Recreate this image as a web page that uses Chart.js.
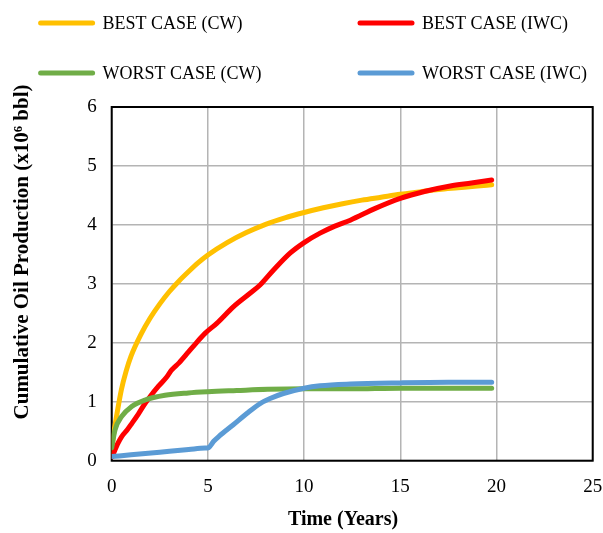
<!DOCTYPE html>
<html>
<head>
<meta charset="utf-8">
<script src="https://cdn.jsdelivr.net/npm/chart.js@4/dist/chart.umd.min.js"></script>
<style>
html,body{margin:0;padding:0;background:#fff;}
canvas{display:block;}
</style>
</head>
<body>
<canvas id="c" width="603" height="533"></canvas>
<script>
// ---- data ----
const seriesLabels = ["BEST CASE (CW)", "BEST CASE (IWC)", "WORST CASE (CW)", "WORST CASE (IWC)"];

const bestCwX = [0, 0.1, 0.25, 0.5, 0.75, 1.0, 1.5, 2.0, 2.5, 3.0, 3.5, 4.0, 4.5, 5.0, 6.0, 7.0, 8.0, 9.0, 10, 11, 12, 13, 14, 15, 16, 17, 18, 19, 19.75];
const bestCwY = [0.15, 0.45, 0.75, 1.2, 1.52, 1.77, 2.13, 2.42, 2.66, 2.87, 3.05, 3.21, 3.36, 3.49, 3.70, 3.87, 4.01, 4.12, 4.21, 4.29, 4.36, 4.42, 4.47, 4.52, 4.56, 4.60, 4.63, 4.66, 4.68];

const bestIwcX = [0.03, 0.3, 0.52, 0.8, 1.04, 1.4, 1.73, 2.0, 2.42, 2.86, 3.12, 3.5, 3.98, 4.4, 4.85, 5.46, 6.32, 7.19, 7.71, 8.4, 9.27, 10, 10.83, 11.6, 12.4, 13.7, 15, 16.3, 17.6, 18.7, 19.75];
const bestIwcY = [0.07, 0.28, 0.41, 0.52, 0.63, 0.80, 0.97, 1.09, 1.26, 1.42, 1.54, 1.66, 1.84, 2.00, 2.16, 2.33, 2.61, 2.84, 2.98, 3.23, 3.52, 3.70, 3.86, 3.98, 4.08, 4.28, 4.45, 4.57, 4.66, 4.71, 4.76];

const worstCwX = [0, 0.17, 0.52, 1.04, 1.73, 2.77, 3.98, 5.0, 6.5, 8.1, 10, 12.4, 15, 17.5, 19.75];
const worstCwY = [0.22, 0.52, 0.75, 0.92, 1.03, 1.11, 1.15, 1.17, 1.19, 1.21, 1.22, 1.22, 1.23, 1.23, 1.23];

const worstIwcX = [0, 1, 2.5, 4, 4.85, 5.02, 5.3, 5.6, 6.32, 7.02, 7.71, 8.2, 8.92, 10, 10.83, 12.4, 15, 17.5, 19.75];
const worstIwcY = [0.07, 0.10, 0.145, 0.19, 0.215, 0.22, 0.33, 0.42, 0.61, 0.80, 0.97, 1.05, 1.14, 1.23, 1.27, 1.30, 1.32, 1.33, 1.33];

const xTicks = [0, 5, 10, 15, 20, 25];
const yTicks = [0, 1, 2, 3, 4, 5, 6];
const xTitle = "Time (Years)";
const yTitle = "Cumulative Oil Production (x10\u2076 bbl)";

// ---- build ----
function pts(xs, ys){ return xs.map((x,i)=>({x:x, y:ys[i]})); }
const colors = ["#FFC000", "#FF0000", "#70AD47", "#5B9BD5"];
const seriesData = [pts(bestCwX,bestCwY), pts(bestIwcX,bestIwcY), pts(worstCwX,worstCwY), pts(worstIwcX,worstIwcY)];
const drawOrder = [3, 2, 1, 0];

const SERIF = "'Liberation Serif','Times New Roman',serif";

const datasets = seriesData.map((d,i)=>({
  label: seriesLabels[i],
  data: d,
  borderColor: colors[i],
  backgroundColor: colors[i],
  borderWidth: 5,
  borderCapStyle: 'round',
  borderJoinStyle: 'round',
  pointRadius: 0,
  showLine: true,
  fill: false,
  cubicInterpolationMode: 'monotone',
  order: drawOrder[i]
}));

const framePlugin = {
  id: 'frame',
  beforeDatasetsDraw(chart){
    const {ctx, chartArea:a} = chart;
    ctx.save();
    ctx.strokeStyle = '#000';
    ctx.lineWidth = 2;
    ctx.strokeRect(a.left, a.top, a.right - a.left, a.bottom - a.top);
    ctx.restore();
  },
  afterDraw(chart){
    const ctx = chart.ctx;
    ctx.save();
    // legend
    const legPos = [[38.6, 23], [358, 23], [38.6, 73], [358, 73]];
    ctx.font = "18px " + SERIF;
    ctx.textBaseline = 'middle';
    ctx.textAlign = 'left';
    chart.data.datasets.forEach((ds,i)=>{
      const [lx, ly] = legPos[i];
      ctx.strokeStyle = ds.borderColor;
      ctx.lineWidth = 5;
      ctx.lineCap = 'round';
      ctx.beginPath();
      ctx.moveTo(lx + 2, ly);
      ctx.lineTo(lx + 54, ly);
      ctx.stroke();
      ctx.fillStyle = '#000';
      ctx.fillText(ds.label, lx + 64, ly + 1);
    });
    // axis titles
    ctx.fillStyle = '#000';
    ctx.textAlign = 'center';
    ctx.textBaseline = 'middle';
    ctx.font = "bold 20px " + SERIF;
    ctx.fillText(xTitle, 343, 520);
    ctx.font = "bold 21px " + SERIF;
    ctx.translate(23, 252);
    ctx.rotate(-Math.PI/2);
    ctx.fillText(yTitle, 0, 0);
    ctx.restore();
  }
};

new Chart(document.getElementById('c'), {
  type: 'scatter',
  data: { datasets },
  options: {
    responsive: false,
    animation: false,
    devicePixelRatio: 1,
    layout: { padding: { top: 107, right: 10.3, left: 0, bottom: 0 } },
    plugins: { legend: { display: false }, tooltip: { enabled: false } },
    scales: {
      x: {
        type: 'linear',
        min: 0, max: 25,
        afterBuildTicks(s){ s.ticks = xTicks.map(v=>({value:v})); },
        afterFit(s){ s.height = 72.3; s.paddingRight = 0; s.paddingLeft = 0; },
        grid: { color: '#b4b4b4', lineWidth: 1.5, drawTicks: false },
        border: { display: false },
        ticks: { color: '#000', font: { family: SERIF, size: 19 }, padding: 15, maxRotation: 0 }
      },
      y: {
        type: 'linear',
        min: 0, max: 6,
        afterBuildTicks(s){ s.ticks = yTicks.map(v=>({value:v})); },
        afterFit(s){ s.width = 111.7; s.paddingTop = 0; s.paddingBottom = 0; },
        grid: { color: '#b4b4b4', lineWidth: 1.5, drawTicks: false },
        border: { display: false },
        ticks: { color: '#000', font: { family: SERIF, size: 19 }, padding: 15 }
      }
    }
  },
  plugins: [framePlugin]
});
</script>
</body>
</html>
